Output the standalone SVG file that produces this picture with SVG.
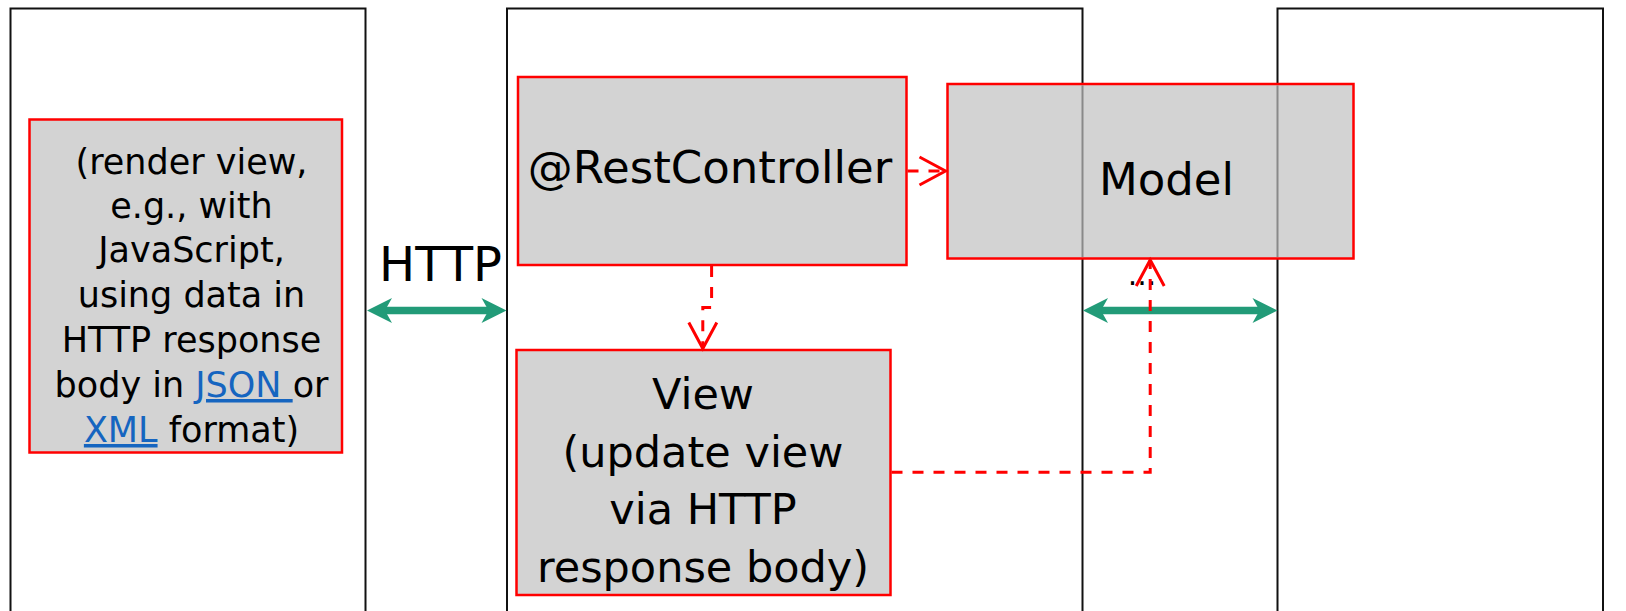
<svg xmlns="http://www.w3.org/2000/svg" width="1626" height="611" viewBox="0 0 1626 611">
<style>
.lane{fill:#fff;stroke:#111;stroke-width:2}
.box{fill:#d3d3d3;stroke:#ff0000;stroke-width:2.5}
.t{font-family:"DejaVu Sans","Liberation Sans",sans-serif;fill:#000;text-anchor:middle}
.small{font-size:35px}
.big{font-size:45px}
.mid{font-size:43px}
.link{fill:#1565c0;text-decoration:underline}
.dep{fill:none;stroke:#ff0000;stroke-width:3;stroke-dasharray:11 10}
.http{stroke:#229b78;stroke-width:7.5;fill:none}
.overlap{stroke:#000;stroke-opacity:0.35;stroke-width:2}
</style>
<defs>
<marker id="open" markerUnits="userSpaceOnUse" markerWidth="40" markerHeight="40" viewBox="-30 -20 40 40" refX="0" refY="0" orient="auto" overflow="visible">
<path d="M-26,-14 L0,0 L-26,14" fill="none" stroke="#ff0000" stroke-width="3" stroke-dasharray="none"/>
</marker>
<marker id="barb" markerUnits="userSpaceOnUse" markerWidth="40" markerHeight="40" viewBox="-10 -20 40 40" refX="0" refY="0" orient="auto-start-reverse" overflow="visible">
<path d="M17,0 L-8,-12.5 L-1,0 L-8,12.5 Z" fill="#229b78" stroke="none"/>
</marker>
</defs>
<rect width="1626" height="611" fill="#fff"/>
<g id="lanes">
<rect id="lane-client" class="lane" x="10.5" y="8.5" width="355" height="620"/>
<rect id="lane-server" class="lane" x="507" y="8.5" width="575.5" height="620"/>
<rect id="lane-data" class="lane" x="1277.5" y="8.5" width="325.5" height="620"/>
</g>
<g id="client-view">
<rect class="box" x="29.5" y="119.5" width="312.5" height="333"/>
<text class="t small" x="191.5" y="173.5">(render view,</text>
<text class="t small" x="191.5" y="217.5">e.g., with</text>
<text class="t small" x="191.5" y="262">JavaScript,</text>
<text class="t small" x="191.5" y="306.5">using data in</text>
<text class="t small" x="191.5" y="352">HTTP response</text>
<text class="t small" x="191.5" y="397">body in <tspan class="link">JSON </tspan>or</text>
<text class="t small" x="191.5" y="442"><tspan class="link">XML</tspan> format)</text>
</g>
<g id="rest-controller">
<rect class="box" x="518" y="77" width="388.5" height="188"/>
<text class="t big" x="710" y="183">@RestController</text>
</g>
<g id="view">
<rect class="box" x="516.5" y="350" width="374" height="245"/>
<text class="t mid" x="703" y="409">View</text>
<text class="t mid" x="703" y="466.5">(update view</text>
<text class="t mid" x="703" y="524">via HTTP</text>
<text class="t mid" x="703" y="581.5">response body)</text>
</g>
<g id="model">
<rect class="box" x="947.5" y="84" width="406" height="174.5"/>
<line class="overlap" x1="1082.5" y1="85.5" x2="1082.5" y2="257"/>
<line class="overlap" x1="1277.5" y1="85.5" x2="1277.5" y2="257"/>
<text class="t big" x="1166.5" y="195">Model</text>
</g>
<g id="labels">
<text class="t" x="440.5" y="280.5" style="font-size:48px">HTTP</text>
<text class="t" x="1142" y="285" style="font-size:30px">...</text>
</g>
<g id="connectors">
<line class="http" x1="384" y1="310.6" x2="489.5" y2="310.6" marker-start="url(#barb)" marker-end="url(#barb)"/>
<line class="http" x1="1100" y1="310.6" x2="1260.5" y2="310.6" marker-start="url(#barb)" marker-end="url(#barb)"/>
<path class="dep" d="M907.5,171 H945.5" marker-end="url(#open)"/>
<path class="dep" d="M711.6,266 V307.5 H702.8 V348.5" marker-end="url(#open)"/>
<path class="dep" d="M891.5,472.3 H1150.2 V260" marker-end="url(#open)"/>
</g>
</svg>
